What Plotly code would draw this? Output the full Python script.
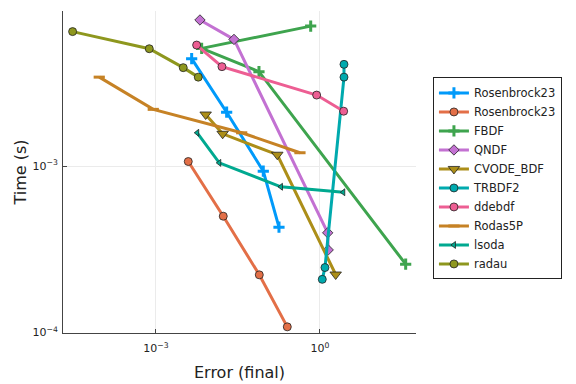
import plotly.graph_objects as go

# ---- data (log10 values, converted back) ----
names = ["Rosenbrock23", "Rosenbrock23", "FBDF", "QNDF", "CVODE_BDF",
         "TRBDF2", "ddebdf", "Rodas5P", "lsoda", "radau"]

err_ros23a = [10**-2.347, 10**-1.707, 10**-1.037, 10**-0.750]
time_ros23a = [10**-2.353, 10**-2.675, 10**-3.030, 10**-3.367]

err_ros23b = [10**-2.409, 10**-1.769, 10**-1.110, 10**-0.598]
time_ros23b = [10**-2.972, 10**-3.301, 10**-3.654, 10**-3.967]

err_fbdf = [10**-0.170, 10**-2.164, 10**-1.116, 10**1.567]
time_fbdf = [10**-2.157, 10**-2.291, 10**-2.431, 10**-3.590]

err_qndf = [10**-2.195, 10**-1.573, 10**0.141, 10**0.150]
time_qndf = [10**-2.120, 10**-2.237, 10**-3.401, 10**-3.504]

err_cvode = [10**-2.091, 10**-1.780, 10**-0.781, 10**0.287]
time_cvode = [10**-2.689, 10**-2.805, 10**-2.931, 10**-3.652]

err_trbdf2 = [10**0.439, 10**0.439, 10**0.091, 10**0.042]
time_trbdf2 = [10**-2.387, 10**-2.464, 10**-3.610, 10**-3.681]

err_ddebdf = [10**-2.256, 10**-1.793, 10**-0.061, 10**0.433]
time_ddebdf = [10**-2.271, 10**-2.401, 10**-2.572, 10**-2.669]

err_rodas5p = [10**-4.037, 10**-3.049, 10**-1.432, 10**-0.366]
time_rodas5p = [10**-2.464, 10**-2.658, 10**-2.799, 10**-2.919]

err_lsoda = [10**-2.245, 10**-1.842, 10**-0.714, 10**0.426]
time_lsoda = [10**-2.799, 10**-2.980, 10**-3.124, 10**-3.157]

err_radau = [10**-4.524, 10**-3.122, 10**-2.501, 10**-2.226]
time_radau = [10**-2.190, 10**-2.293, 10**-2.407, 10**-2.464]

xtick_vals = [1e-3, 1e0]
xtick_text = ["10<sup>−3</sup>", "10<sup>0</sup>"]
ytick_vals = [1e-4, 1e-3]
ytick_text = ["10<sup>−4</sup>", "10<sup>−3</sup>"]

# ---- styles ----
colors = ["#009AFA", "#E36F47", "#3EA44E", "#C371D2", "#AC8E18",
          "#00AAAE", "#ED5E93", "#C68225", "#00A990", "#8E971E"]
symbols = ["cross-thin", "circle", "cross-thin", "diamond", "triangle-down",
           "circle", "circle", "line-ew", "triangle-left", "circle"]
sizes = [8, 8, 8, 8, 10, 8, 8, 8, 6, 8]

series = [(err_ros23a, time_ros23a), (err_ros23b, time_ros23b),
          (err_fbdf, time_fbdf), (err_qndf, time_qndf),
          (err_cvode, time_cvode), (err_trbdf2, time_trbdf2),
          (err_ddebdf, time_ddebdf), (err_rodas5p, time_rodas5p),
          (err_lsoda, time_lsoda), (err_radau, time_radau)]

fig = go.Figure()
for i, (xs, ys) in enumerate(series):
    sym = symbols[i]
    if sym in ("cross-thin", "line-ew"):
        marker = dict(symbol=sym, size=sizes[i], color=colors[i],
                      line=dict(color=colors[i], width=3))
    else:
        marker = dict(symbol=sym, size=sizes[i], color=colors[i],
                      line=dict(color="#222222", width=0.8))
    fig.add_trace(go.Scatter(
        x=xs, y=ys, name=names[i], mode="lines+markers",
        line=dict(color=colors[i], width=3),
        marker=marker))

axis_common = dict(
    type="log", showline=True, linecolor="#444444", linewidth=1,
    ticks="inside", ticklen=4, tickcolor="#444444",
    showgrid=True, gridcolor="#EBEBEB", gridwidth=1, zeroline=False,
    tickfont=dict(family="DejaVu Sans", size=11, color="#222222"),
    mirror=False,
)

# page body has an 8px margin: figure is drawn at (8, 8)
fig.update_layout(
    width=568, height=376,
    margin=dict(l=55, r=160, t=3, b=51, autoexpand=False),
    paper_bgcolor="white", plot_bgcolor="white",
    font=dict(family="DejaVu Sans", color="#222222"),
    xaxis=dict(axis_common, range=[-4.70, 1.756],
               tickvals=xtick_vals, ticktext=xtick_text, ticklabelstandoff=5,
               title=dict(text="Error (final)", font=dict(size=16), standoff=12)),
    yaxis=dict(axis_common, range=[-4.004, -2.066],
               tickvals=ytick_vals, ticktext=ytick_text, ticklabelstandoff=2,
               title=dict(text="Time (s)", font=dict(size=16), standoff=1)),
    legend=dict(x=1.048, y=0.48, xanchor="left", yanchor="middle",
                bordercolor="#222222", borderwidth=1, bgcolor="white",
                font=dict(size=11.5, family="DejaVu Sans"),
                tracegroupgap=0, itemwidth=30),
    showlegend=True,
)

fig.write_html("out.html")
